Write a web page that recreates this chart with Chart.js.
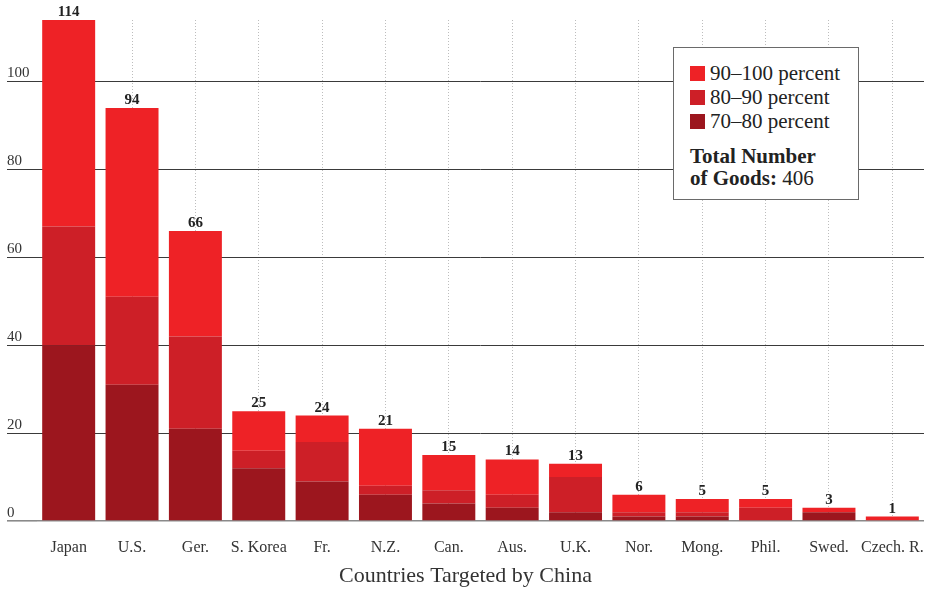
<!DOCTYPE html>
<html>
<head>
<meta charset="utf-8">
<script src="https://cdn.jsdelivr.net/npm/chart.js@4/dist/chart.umd.min.js"></script>
<style>
  html, body { margin: 0; padding: 0; background: #fff; }
  #wrap { position: relative; width: 928px; height: 591px; }
  #legendBox {
    position: absolute; left: 673px; top: 47px; width: 184px; height: 151px;
    border: 1px solid #6a6a6a; background: #fff;
    font-family: "Liberation Serif", "Times New Roman", serif; color: #222;
  }
  .row { position: absolute; left: 16px; height: 24px; font-size: 21px; line-height: 24px; white-space: nowrap; }
  .sw { display: inline-block; width: 15px; height: 15px; margin-right: 5px; vertical-align: -1px; }
  #total { position: absolute; left: 16px; top: 97px; font-size: 21px; line-height: 22px; }
</style>
</head>
<body>
<div id="wrap">
  <canvas id="c" width="928" height="591"></canvas>
  <div id="legendBox"></div>
</div>
<script>
// ---- data ----
const categories = ["Japan", "U.S.", "Ger.", "S. Korea", "Fr.", "N.Z.", "Can.", "Aus.", "U.K.", "Nor.", "Mong.", "Phil.", "Swed.", "Czech. R."];
const pct70to80  = [40, 31, 21, 12, 9, 6, 4, 3, 2, 1, 1, 0, 2, 0];
const pct80to90  = [27, 20, 21,  4, 9, 2, 3, 3, 8, 1, 1, 3, 0, 0];
const pct90to100 = [47, 43, 24,  9, 6, 13, 8, 8, 3, 4, 3, 2, 1, 1];
const seriesNames = ["70–80 percent", "80–90 percent", "90–100 percent"];
const yTickValues = [0, 20, 40, 60, 80, 100];
const xTitle = "Countries Targeted by China";

const colors = { dark: "#9c161e", mid: "#cd1f27", bright: "#ee2226" };
const totals = categories.map((_, i) => pct70to80[i] + pct80to90[i] + pct90to100[i]);
const grandTotal = totals.reduce((a, b) => a + b, 0);

// ---- legend (HTML) ----
const lb = document.getElementById("legendBox");
const legendItems = [[seriesNames[2], colors.bright], [seriesNames[1], colors.mid], [seriesNames[0], colors.dark]];
legendItems.forEach((it, k) => {
  const d = document.createElement("div");
  d.className = "row";
  d.style.top = (13 + k * 24) + "px";
  d.innerHTML = '<span class="sw" style="background:' + it[1] + '"></span>' + it[0];
  lb.appendChild(d);
});
const tot = document.createElement("div");
tot.id = "total";
tot.innerHTML = '<b>Total Number</b><br><b>of Goods:</b> ' + grandTotal;
lb.appendChild(tot);

// ---- total labels plugin ----
const totalsPlugin = {
  id: "totals",
  afterDatasetsDraw(chart) {
    const ctx = chart.ctx;
    const meta = chart.getDatasetMeta(chart.data.datasets.length - 1);
    ctx.save();
    ctx.font = "bold 15px 'Liberation Serif', serif";
    ctx.fillStyle = "#222";
    ctx.textAlign = "center";
    ctx.textBaseline = "alphabetic";
    meta.data.forEach((el, i) => {
      ctx.fillText(String(totals[i]), el.x, el.y - 4);
    });
    ctx.restore();
  }
};

new Chart(document.getElementById("c"), {
  type: "bar",
  data: {
    labels: categories,
    datasets: [
      { label: seriesNames[0], data: pct70to80, backgroundColor: colors.dark },
      { label: seriesNames[1], data: pct80to90, backgroundColor: colors.mid },
      { label: seriesNames[2], data: pct90to100, backgroundColor: colors.bright }
    ]
  },
  options: {
    responsive: false,
    animation: false,
    devicePixelRatio: 1,
    categoryPercentage: 1,
    barPercentage: 0.836,
    layout: { padding: { left: 7, right: 4, top: 20, bottom: 0 } },
    plugins: {
      legend: { display: false },
      tooltip: { enabled: false },
      title: {
        display: true, position: "bottom", text: xTitle, color: "#333",
        font: { family: "'Liberation Serif', serif", size: 22, weight: "normal" },
        padding: { top: 0, bottom: 2 }
      }
    },
    scales: {
      x: {
        stacked: true,
        grid: { display: true, offset: false, drawTicks: true, tickLength: 17, tickColor: "rgba(0,0,0,0)", color: "#bdbdbd", lineWidth: 1 },
        border: { display: false, dash: [1, 2] },
        ticks: { color: "#333", padding: 0, font: { family: "'Liberation Serif', serif", size: 16 }, maxRotation: 0, autoSkip: false },
        afterFit(scale) { scale.height = 41.6; }
      },
      y: {
        stacked: true,
        min: 0,
        max: Math.max(...totals),
        afterBuildTicks(scale) { scale.ticks = yTickValues.map(v => ({ value: v })); },
        grid: {
          drawTicks: true, tickLength: 30,
          color: (c) => (c.tick && c.tick.value === 0 ? "#8a8a8a" : "#3a3a3a"),
          tickColor: (c) => (c.tick && c.tick.value === 0 ? "#8a8a8a" : "#3a3a3a"),
          lineWidth: (c) => (c.tick && c.tick.value === 0 ? 1.6 : 1)
        },
        border: { display: false },
        ticks: { color: "#333", crossAlign: "far", labelOffset: -8, padding: 0, font: { family: "'Liberation Serif', serif", size: 15 } },
        afterFit(scale) { scale.width = 30; }
      }
    }
  },
  plugins: [totalsPlugin]
});
</script>
</body>
</html>
